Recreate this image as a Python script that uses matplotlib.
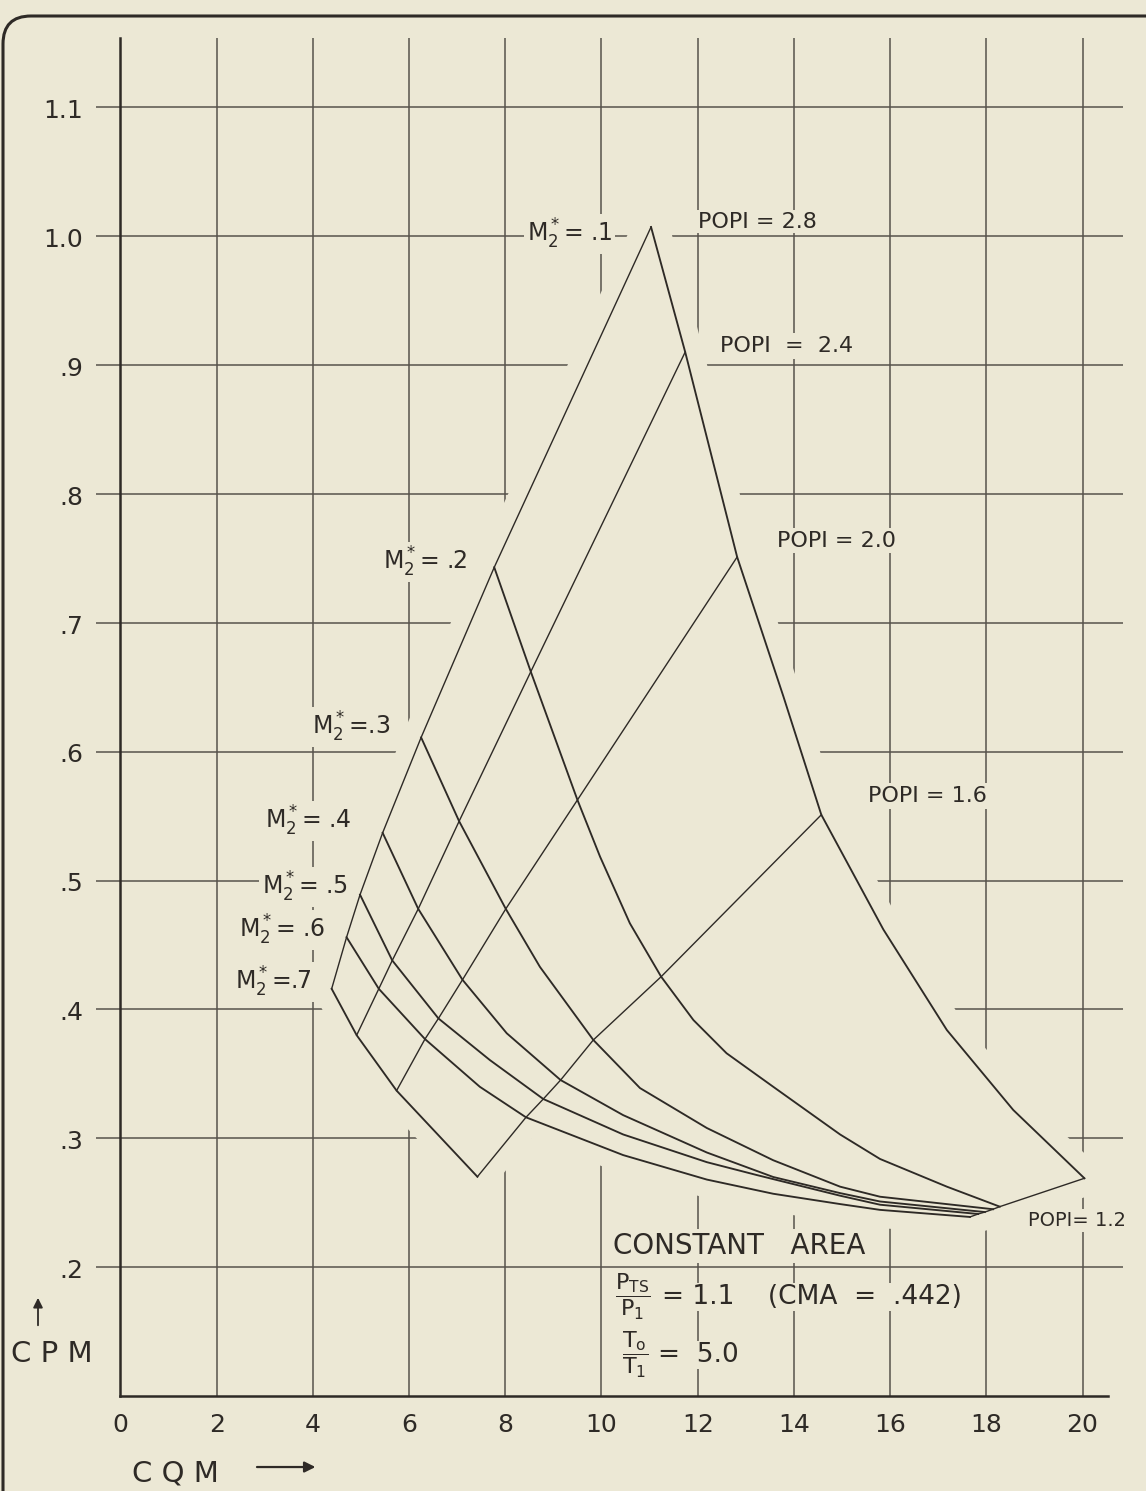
import matplotlib.pyplot as plt
from matplotlib.patches import Polygon, FancyBboxPatch

# Schriften / Farben
plt.rcParams['font.family'] = ['DejaVu Sans']
plt.rcParams['mathtext.default'] = 'regular'
paper = '#ece8d5'
ink = '#2e2a26'
grid_ink = '#57524b'

# Achsen-Ticks
cqm_ticks = [0, 2, 4, 6, 8, 10, 12, 14, 16, 18, 20]
cqm_tick_labels = ['0', '2', '4', '6', '8', '10', '12', '14', '16', '18', '20']
cpm_ticks = [0.2, 0.3, 0.4, 0.5, 0.6, 0.7, 0.8, 0.9, 1.0, 1.1]
cpm_tick_labels = ['.2', '.3', '.4', '.5', '.6', '.7', '.8', '.9', '1.0', '1.1']

# Kurven konstanter M2* (CQM, CPM)
cqm_m1 = [11.03, 11.74, 12.82, 13.78, 14.57, 15.86, 17.18, 18.56, 20.04]
cpm_m1 = [1.007, 0.910, 0.751, 0.643, 0.551, 0.462, 0.384, 0.322, 0.269]
cqm_m2 = [7.77, 8.53, 9.50, 9.97, 10.59, 11.24, 11.91, 12.60, 13.57, 14.96, 15.79, 17.18, 18.28]
cpm_m2 = [0.743, 0.662, 0.5625, 0.5185, 0.4668, 0.4254, 0.3918, 0.366, 0.340, 0.303, 0.284, 0.2625, 0.247]
cqm_m3 = [6.25, 7.04, 8.01, 8.72, 9.83, 10.80, 12.19, 13.57, 14.96, 15.79, 18.14]
cpm_m3 = [0.611, 0.546, 0.478, 0.433, 0.3763, 0.339, 0.308, 0.283, 0.2625, 0.2547, 0.245]
cqm_m4 = [5.45, 6.19, 7.11, 8.03, 9.15, 10.45, 12.19, 13.57, 14.96, 15.79, 17.97]
cpm_m4 = [0.537, 0.478, 0.423, 0.3815, 0.3452, 0.318, 0.289, 0.270, 0.2575, 0.251, 0.2428]
cqm_m5 = [4.98, 5.65, 6.61, 7.68, 8.79, 10.45, 12.19, 13.23, 14.96, 15.79, 17.83]
cpm_m5 = [0.489, 0.438, 0.393, 0.3607, 0.3305, 0.303, 0.2815, 0.2715, 0.2555, 0.2485, 0.2413]
cqm_m6 = [4.70, 5.37, 6.33, 7.47, 8.43, 10.45, 12.19, 13.57, 14.96, 15.79, 17.66]
cpm_m6 = [0.456, 0.416, 0.377, 0.340, 0.3163, 0.287, 0.268, 0.257, 0.249, 0.2445, 0.239]
cqm_m7 = [4.39, 4.91, 5.74, 7.42]
cpm_m7 = [0.416, 0.380, 0.337, 0.2702]

# Linien konstanter POPI
cqm_p28 = [4.39, 4.70, 4.98, 5.45, 6.25, 7.77, 11.03]
cpm_p28 = [0.416, 0.456, 0.489, 0.537, 0.611, 0.743, 1.007]
cqm_p24 = [4.91, 5.37, 5.65, 6.19, 7.04, 8.53, 11.74]
cpm_p24 = [0.380, 0.416, 0.438, 0.478, 0.546, 0.662, 0.910]
cqm_p20 = [5.74, 6.33, 6.61, 7.11, 8.01, 9.50, 12.82]
cpm_p20 = [0.337, 0.377, 0.393, 0.423, 0.478, 0.5625, 0.751]
cqm_p16 = [7.42, 8.43, 8.79, 9.15, 9.83, 11.24, 14.57]
cpm_p16 = [0.2702, 0.3163, 0.3305, 0.3452, 0.3763, 0.4254, 0.551]
cqm_p12 = [17.66, 17.83, 17.97, 18.14, 18.28, 20.04]
cpm_p12 = [0.239, 0.2413, 0.2428, 0.245, 0.247, 0.269]

m2_curves = [(cqm_m1, cpm_m1), (cqm_m2, cpm_m2), (cqm_m3, cpm_m3), (cqm_m4, cpm_m4),
             (cqm_m5, cpm_m5), (cqm_m6, cpm_m6), (cqm_m7, cpm_m7)]
popi_lines = [(cqm_p28, cpm_p28), (cqm_p24, cpm_p24), (cqm_p20, cpm_p20),
              (cqm_p16, cpm_p16), (cqm_p12, cpm_p12)]

fig = plt.figure(figsize=(11.46, 14.91), dpi=100, facecolor=paper)
ax = fig.add_axes([0, 0, 1, 1])
ax.set_xlim(-2.505, 21.32)
ax.set_ylim(0.0264, 1.1831)
ax.axis('off')

# Rahmen (oben links abgerundet)
fig.patches.append(FancyBboxPatch((0.03, -1.0), 13.0, 15.75, boxstyle='round,pad=0,rounding_size=0.28',
                                  transform=fig.dpi_scale_trans, fc='none', ec=ink, lw=2.2))

# Gitter
ax.vlines(cqm_ticks[1:], 0.1, 1.154, color=grid_ink, lw=1.1, zorder=1)
ax.hlines(cpm_ticks, -0.5, 20.85, color=grid_ink, lw=1.1, zorder=1)
ax.plot([0, 0], [0.1, 1.154], color=ink, lw=1.8, zorder=1)
ax.plot([0, 20.53], [0.1, 0.1], color=ink, lw=1.8, zorder=1)

# Gitter innerhalb des Netzes ausblenden
i6 = cqm_m6.index(cqm_p16[1])
rand_x = cqm_p28 + cqm_m1[1:] + cqm_p12[::-1][1:] + cqm_m6[:i6 - 1:-1][1:] + cqm_p16[:1] + cqm_m7[::-1][1:]
rand_y = cpm_p28 + cpm_m1[1:] + cpm_p12[::-1][1:] + cpm_m6[:i6 - 1:-1][1:] + cpm_p16[:1] + cpm_m7[::-1][1:]
ax.add_patch(Polygon(list(zip(rand_x, rand_y)), closed=True, fc=paper, ec=paper, lw=26,
                     joinstyle='round', zorder=2))

for x, y in m2_curves:
    ax.plot(x, y, color=ink, lw=1.35, zorder=3, solid_joinstyle='round')
for x, y in popi_lines:
    ax.plot(x, y, color=ink, lw=1.0, zorder=3)

# Tick-Beschriftung
for v, s in zip(cqm_ticks, cqm_tick_labels):
    ax.text(v, 0.0776, s, ha='center', va='center', fontsize=18, color=ink)
for v, s in zip(cpm_ticks, cpm_tick_labels):
    ax.text(-0.78, v - 0.003, s, ha='right', va='center', fontsize=18, color=ink)

box = dict(boxstyle='square,pad=0.12', fc=paper, ec='none')
kw = dict(ha='left', va='baseline', color=ink, zorder=4, bbox=box)

# Beschriftung der Kurven
ax.text(8.45, 0.9953, r'M$_2^*$= .1', fontsize=17, **kw)
ax.text(5.46, 0.741, r'M$_2^*$= .2', fontsize=17, **kw)
ax.text(3.98, 0.613, r'M$_2^*$=.3', fontsize=17, **kw)
ax.text(3.00, 0.5405, r'M$_2^*$= .4', fontsize=17, **kw)
ax.text(2.94, 0.4888, r'M$_2^*$= .5', fontsize=17, **kw)
ax.text(2.46, 0.4554, r'M$_2^*$= .6', fontsize=17, **kw)
ax.text(2.38, 0.415, r'M$_2^*$=.7', fontsize=17, **kw)

ax.text(12.01, 1.0035, 'POPI = 2.8', fontsize=16, ha='left', va='bottom', color=ink, zorder=4,
        bbox=dict(boxstyle='square,pad=0.05', fc=paper, ec='none'))
ax.text(12.46, 0.910, 'POPI  =  2.4', fontsize=16, **kw)
ax.text(13.65, 0.759, 'POPI = 2.0', fontsize=16, **kw)
ax.text(15.54, 0.561, 'POPI = 1.6', fontsize=16, **kw)
ax.text(18.87, 0.232, 'POPI= 1.2', fontsize=14, **kw)

# Hinweise unten
small = dict(boxstyle='square,pad=0.05', fc=paper, ec='none')
ax.text(10.24, 0.2102, 'CONSTANT   AREA', fontsize=20, **kw)
ax.text(10.28, 0.1769, r'$\dfrac{P_{TS}}{P_1}$', fontsize=16, ha='left', va='center',
        color=ink, zorder=4, bbox=small)
ax.text(11.25, 0.1769, '= 1.1    (CMA  =  .442)', fontsize=19, ha='left', va='center',
        color=ink, zorder=4, bbox=small)
ax.text(10.43, 0.1319, r'$\dfrac{T_o}{T_1}$', fontsize=16, ha='left', va='center',
        color=ink, zorder=4, bbox=small)
ax.text(11.18, 0.1319, '=  5.0', fontsize=19, ha='left', va='center',
        color=ink, zorder=4, bbox=small)

# Achsentitel mit Pfeilen
ax.text(-2.28, 0.1265, 'C P M', fontsize=21, ha='left', va='baseline', color=ink)
ax.annotate('', xy=(-1.715, 0.1784), xytext=(-1.715, 0.1528),
            arrowprops=dict(arrowstyle='-|>', color=ink, lw=1.3, mutation_scale=14))
ax.text(0.24, 0.0341, 'C Q M', fontsize=21, ha='left', va='baseline', color=ink)
ax.annotate('', xy=(4.11, 0.045), xytext=(2.78, 0.045),
            arrowprops=dict(arrowstyle='-|>', color=ink, lw=1.6, mutation_scale=16))

plt.savefig('out.png', dpi=100, facecolor=paper)
